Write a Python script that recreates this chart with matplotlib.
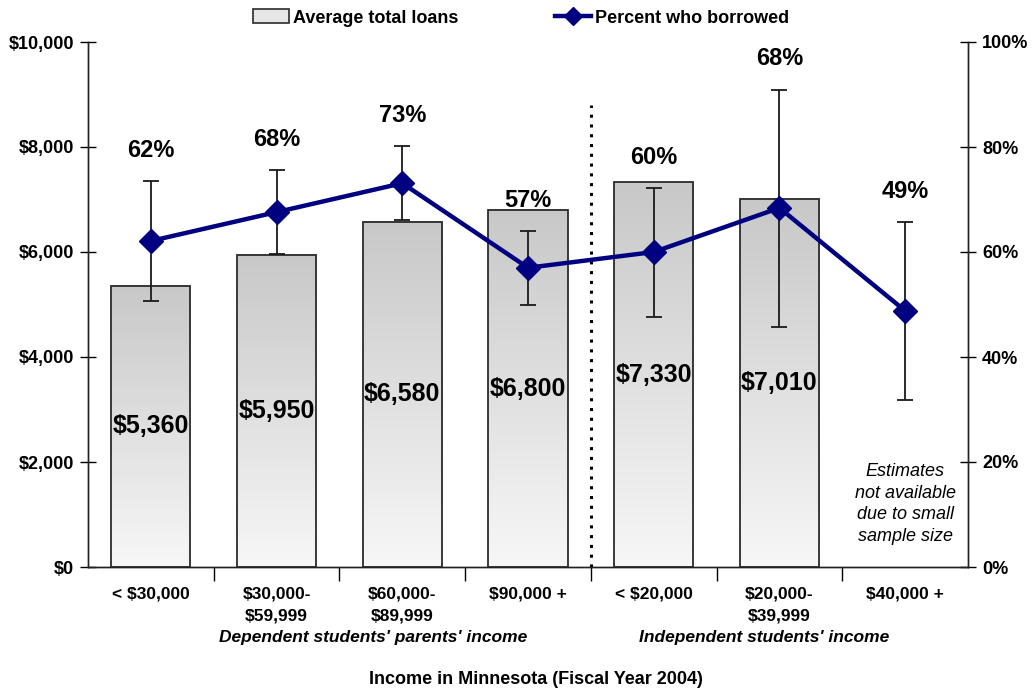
import matplotlib
matplotlib.use('Agg')
import matplotlib.pyplot as plt
import numpy as np
from matplotlib.lines import Line2D
from matplotlib.patches import Rectangle
from matplotlib import font_manager
from matplotlib.transforms import blended_transform_factory
from matplotlib.colors import LinearSegmentedColormap

categories = ['< $30,000', '$30,000-\n$59,999', '$60,000-\n$89,999', '$90,000 +',
              '< $20,000', '$20,000-\n$39,999', '$40,000 +']
avg_loans = [5360, 5950, 6580, 6800, 7330, 7010]
pct_borrowed = [62.1, 67.6, 73.1, 57.0, 60.0, 68.4, 48.8]
pct_err_low = [50.6, 59.6, 66.1, 49.9, 47.6, 45.7, 31.8]
pct_err_high = [73.5, 75.6, 80.2, 64.0, 72.2, 90.9, 65.7]
group_labels = ["Dependent students' parents' income", "Independent students' income"]
y_left_ticks = [0, 2000, 4000, 6000, 8000, 10000]
y_right_ticks = [0, 20, 40, 60, 80, 100]

names = {f.name for f in font_manager.fontManager.ttflist}
base = 'Liberation Sans' if 'Liberation Sans' in names else 'DejaVu Sans'
plt.rcParams['font.family'] = [base, 'DejaVu Sans']

fig = plt.figure(figsize=(10.32, 6.94), dpi=100)
ax = fig.add_axes([88/1032, 1-567/694, 880/1032, 525/694])
ax2 = ax.twinx()

x = np.arange(len(categories))
bw = 0.63

# gradient bars
grad = np.linspace(0, 1, 256).reshape(-1, 1)
cmap = LinearSegmentedColormap.from_list('g', ['#f7f7f7', '#c8c8c8'])
for i, v in enumerate(avg_loans):
    rect = Rectangle((x[i] - bw/2, 0), bw, v, facecolor='none', edgecolor='#2b2b2b', lw=1.3, zorder=3)
    ax.add_patch(rect)
    ax.imshow(grad, extent=(x[i] - bw/2, x[i] + bw/2, 0, v), origin='lower', cmap=cmap,
              aspect='auto', zorder=2)
    ax.text(x[i], v/2, f"${v:,}", ha='center', va='center', fontsize=18, fontweight='bold', zorder=5)
ax.set_xlim(-0.5, len(categories) - 0.5)
ax.set_ylim(0, 10000)
ax2.set_ylim(0, 100)

# divider
ax.plot([3.5, 3.5], [0, 8800], color='black', ls=(0, (1, 2.2)), lw=2.2, zorder=4)

# line with error bars
ax2.errorbar(x, pct_borrowed,
             yerr=[np.array(pct_borrowed) - np.array(pct_err_low),
                   np.array(pct_err_high) - np.array(pct_borrowed)],
             fmt='none', ecolor='#1a1a1a', elinewidth=1.3, capsize=5.5, capthick=1.3, zorder=5)
ax2.plot(x, pct_borrowed, color='#000080', lw=3.2, marker='D', markersize=12, zorder=6)
for i, p in enumerate(pct_borrowed):
    ax2.annotate(f"{round(p)}%", (x[i], pct_err_high[i]), xytext=(0, 14), textcoords='offset points',
                 ha='center', va='bottom', fontsize=17, fontweight='bold')

ax.text(6, 1200, 'Estimates\nnot available\ndue to small\nsample size', ha='center', va='center',
        fontsize=13, style='italic', linespacing=1.35, zorder=5)

# axes styling
for a in (ax, ax2):
    a.spines['top'].set_visible(False)
    for s in ('left', 'right', 'bottom'):
        a.spines[s].set_color('#222222')
        a.spines[s].set_linewidth(1.0)
ax.set_yticks(y_left_ticks)
ax.set_yticklabels([f"${t:,}" for t in y_left_ticks], fontsize=13, fontweight='bold')
ax2.set_yticks(y_right_ticks)
ax2.set_yticklabels([f"{t}%" for t in y_right_ticks], fontsize=13, fontweight='bold')
ax.tick_params(axis='y', direction='inout', length=12, width=1, pad=4)
ax2.tick_params(axis='y', direction='inout', length=12, width=1, pad=4)

ax.set_xticks(x)
ax.set_xticklabels(categories, fontsize=12.5, fontweight='bold', linespacing=1.55)
ax.set_xticks(np.arange(0.5, len(categories) - 0.5, 1), minor=True)
ax.tick_params(axis='x', which='major', length=0, pad=14)
ax.tick_params(axis='x', which='minor', direction='out', length=10, width=1)

tr = blended_transform_factory(ax.transData, ax.transAxes)
ax.text(1.77, -0.135, group_labels[0], transform=tr, ha='center', va='center',
        fontsize=12.5, fontweight='bold', style='italic')
ax.text(4.88, -0.135, group_labels[1], transform=tr, ha='center', va='center',
        fontsize=12.5, fontweight='bold', style='italic')
fig.text(536/1032, 1 - 680/694, 'Income in Minnesota (Fiscal Year 2004)', ha='center', va='center',
         fontsize=13, fontweight='bold')

# legend
h1 = Rectangle((0, 0), 1, 1, facecolor='#e6e6e6', edgecolor='#2b2b2b', lw=1.2)
h2 = Line2D([], [], color='#000080', lw=3.2, marker='D', markersize=9)
fig.legend([h1, h2], ['Average total loans', 'Percent who borrowed'], loc='center',
           bbox_to_anchor=(521/1032, 1 - 18/694), ncol=2, frameon=False,
           prop={'weight': 'bold', 'size': 13},
           handlelength=2.0, handletextpad=0.2, columnspacing=5.4, handleheight=0.8)

fig.savefig('out.png', dpi=100)
